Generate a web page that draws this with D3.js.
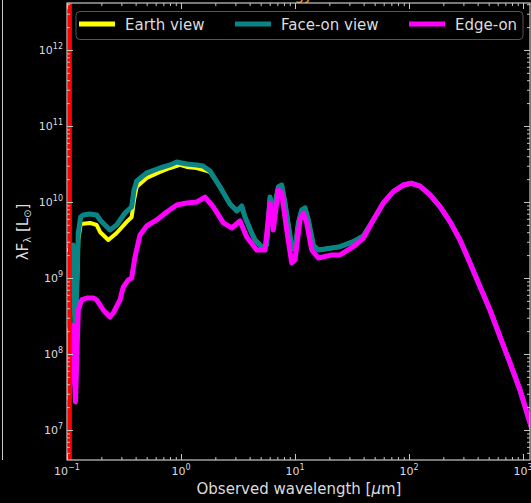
<!DOCTYPE html>
<html><head><meta charset="utf-8">
<script src="https://cdn.jsdelivr.net/npm/d3@7"></script>
<style>
html,body{margin:0;padding:0;background:#000;}
svg{display:block;font-family:"DejaVu Sans",sans-serif;}
</style></head><body>
<svg id="c" width="531" height="503"></svg>
<script>
// ---- data (wavelength in micron, lambda*F_lambda in L_sun) ----
const seriesNames = ["Earth view", "Face-on view", "Edge-on"];
const seriesColors = ["#ffff00", "#0a8585", "#ff00ff"];

const earthLam = [0.098,0.1129,0.1175,0.1211,0.1256,0.1319,0.1591,0.1822,0.1948,0.2303,0.2729,0.3339,0.3694,0.3871,0.4088,0.5001,0.6541,0.8006,0.980,1.122,1.373,1.680,1.796,2.198,2.691,3.081,3.408,3.642,4.171,4.459,5.105,5.647,6.035,6.451,7.137,7.643,8.173,9.356,10.00,10.69,11.45,12.24,13.09,14.47,16.01,20.99,24.81,32.46,39.72,48.63,59.52,72.84,89.13,105.6,124.9,152.9,187.1,228.9,280.2,342.8,419.6,513.4,628.4,769.2,941.2,1152,1274];
const earthF = [2.34e9,2.34e9,2.41e8,4.42e8,3.16e9,5.14e9,5.30e9,4.98e9,4.03e9,3.16e9,3.91e9,5.46e9,6.35e9,1.06e10,1.58e10,2.07e10,2.48e10,2.80e10,3.07e10,2.89e10,2.80e10,2.56e10,2.48e10,1.58e10,9.42e9,7.62e9,8.85e9,6.35e9,3.91e9,3.16e9,2.56e9,2.72e9,1.16e10,7.16e9,1.58e10,1.67e10,9.70e9,2.56e9,2.34e9,5.30e9,7.85e9,8.34e9,5.80e9,2.72e9,2.34e9,2.48e9,2.58e9,3.00e9,3.57e9,5.80e9,9.70e9,1.37e10,1.67e10,1.76e10,1.62e10,1.24e10,8.68e9,5.51e9,3.16e9,1.58e9,7.69e8,3.79e8,1.69e8,7.62e7,3.36e7,1.24e7,7.4e6];

const faceLam = [0.098,0.1129,0.1175,0.1211,0.1256,0.1319,0.1390,0.1591,0.1822,0.1948,0.2383,0.2729,0.3227,0.3694,0.3871,0.4088,0.5001,0.6541,0.8006,0.9168,1.122,1.373,1.560,1.796,2.198,2.691,3.081,3.408,3.642,4.171,4.459,5.105,5.647,6.035,6.451,7.137,7.643,8.173,9.356,10.00,10.69,11.45,12.24,13.09,14.47,16.01,20.99,24.81,32.46,39.72,48.63,59.52,72.84,89.13,105.6,124.9,152.9,187.1,228.9,280.2,342.8,419.6,513.4,628.4,769.2,941.2,1152,1274];
const faceF = [2.72e9,2.72e9,2.64e8,5.14e8,3.91e9,6.35e9,6.74e9,6.95e9,6.74e9,5.80e9,4.29e9,4.98e9,7.16e9,8.60e9,1.44e10,1.89e10,2.41e10,2.80e10,3.07e10,3.36e10,3.16e10,3.07e10,2.98e10,2.56e10,1.58e10,9.42e9,7.62e9,8.85e9,6.35e9,3.91e9,3.16e9,2.56e9,2.72e9,1.16e10,7.16e9,1.58e10,1.67e10,9.70e9,2.56e9,2.34e9,5.30e9,7.85e9,8.34e9,5.80e9,2.72e9,2.34e9,2.48e9,2.58e9,3.00e9,3.57e9,5.80e9,9.70e9,1.37e10,1.67e10,1.76e10,1.62e10,1.24e10,8.68e9,5.51e9,3.16e9,1.58e9,7.69e8,3.79e8,1.69e8,7.62e7,3.36e7,1.24e7,7.4e6];

const edgeLam = [0.098,0.1041,0.1129,0.1187,0.1256,0.1346,0.1489,0.1701,0.1822,0.2082,0.2383,0.2547,0.2917,0.3118,0.3449,0.3694,0.3949,0.4368,0.5001,0.6121,0.7491,0.9168,1.122,1.373,1.624,1.920,2.350,2.785,3.293,3.770,4.613,5.456,6.035,6.451,7.137,7.643,8.458,9.356,10.00,11.06,11.83,12.67,14.02,16.01,20.99,24.81,32.46,39.72,48.63,59.52,72.84,89.13,105.6,124.9,152.9,187.1,228.9,280.2,342.8,419.6,513.4,628.4,769.2,941.2,1152,1274];
const edgeF = [2.07e8,2.64e7,2.41e8,2.34e7,3.79e8,5.14e8,5.46e8,5.46e8,5.14e8,3.79e8,3.07e8,3.46e8,5.14e8,7.62e8,9.41e8,1.00e9,1.89e9,3.68e9,4.83e9,5.80e9,7.38e9,9.14e9,9.70e9,1.00e10,1.16e10,8.60e9,5.30e9,4.55e9,5.62e9,3.46e9,2.34e9,2.34e9,9.70e9,4.29e9,1.44e10,1.31e10,4.29e9,1.58e9,1.73e9,5.80e9,7.16e9,5.30e9,2.34e9,1.83e9,2.01e9,2.01e9,2.58e9,3.33e9,5.80e9,9.70e9,1.37e10,1.67e10,1.76e10,1.62e10,1.24e10,8.68e9,5.51e9,3.16e9,1.58e9,7.69e8,3.79e8,1.69e8,7.62e7,3.36e7,1.24e7,7.4e6];

const lymanLine = 0.106;           // red vertical marker (micron)
const xTickExps = [-1, 0, 1, 2, 3];
const yTickExps = [7, 8, 9, 10, 11, 12];
const xLabel = "Observed wavelength [";
const titleText = "Energy";

// ---- layout ----
const svg = d3.select("#c");
const L = 67, R = 530, T = 3, B = 460;
const x = d3.scaleLog().domain([0.1, Math.pow(10, 3.0614)]).range([L, R]);
const y = d3.scaleLog().domain([Math.pow(10, 6.605), Math.pow(10, 12.618)]).range([B, T]);
const fg = "#dcdcdc", spine = "#c8c8c8";

svg.append("rect").attr("width", 531).attr("height", 503).attr("fill", "#000");
// neighbouring panel edge
svg.append("line").attr("x1", 2.5).attr("x2", 2.5).attr("y1", 0).attr("y2", B).attr("stroke", spine).attr("stroke-width", 1);

// title fragment (cut off at top)
svg.append("text").attr("x", 313).attr("y", -0.5).attr("text-anchor", "end")
  .attr("fill", "#ffa500").attr("font-size", 15).text(titleText);

svg.append("defs").append("clipPath").attr("id", "clip")
  .append("rect").attr("x", L).attr("y", T).attr("width", R - L).attr("height", B - T);

const plot = svg.append("g").attr("clip-path", "url(#clip)");

const line = d3.line().x(d => x(d[0])).y(d => y(d[1]));
const series = [
  d3.zip(earthLam, earthF),
  d3.zip(faceLam, faceF),
  d3.zip(edgeLam, edgeF)
];
const widths = [4, 5, 5];
series.forEach((s, i) => {
  plot.append("path").datum(s).attr("d", line).attr("fill", "none")
    .attr("stroke", seriesColors[i]).attr("stroke-width", widths[i])
    .attr("stroke-linejoin", "round").attr("stroke-linecap", "round");
});

// red vertical line
plot.append("line").attr("x1", x(lymanLine)).attr("x2", x(lymanLine))
  .attr("y1", T).attr("y2", B).attr("stroke", "#ff0000").attr("stroke-width", 4);

// ---- axes: ticks inward on all sides ----
const xMajor = xTickExps.map(e => Math.pow(10, e));
const yMajor = yTickExps.map(e => Math.pow(10, e));
function minors(scale, lo, hi) {
  const out = [];
  for (let e = lo; e <= hi; e++) for (let k = 2; k <= 9; k++) {
    const v = k * Math.pow(10, e);
    const d = scale.domain();
    if (v >= d[0] && v <= d[1]) out.push(v);
  }
  return out;
}
const xMinor = minors(x, -1, 3);
const yMinor = minors(y, 6, 12);

function drawAxis(gen, tr, vals, size) {
  const g = svg.append("g").attr("transform", tr)
    .call(gen.tickValues(vals).tickSize(size).tickSizeOuter(0).tickFormat(""));
  g.select(".domain").remove();
  g.selectAll("line").attr("stroke", spine).attr("stroke-width", 1);
  return g;
}
drawAxis(d3.axisBottom(x), `translate(0,${B})`, xMajor, -6);
drawAxis(d3.axisBottom(x), `translate(0,${B})`, xMinor, -3);
drawAxis(d3.axisTop(x), `translate(0,${T})`, xMajor, -6);
drawAxis(d3.axisTop(x), `translate(0,${T})`, xMinor, -3);
drawAxis(d3.axisLeft(y), `translate(${L},0)`, yMajor, -6);
drawAxis(d3.axisLeft(y), `translate(${L},0)`, yMinor, -3);
drawAxis(d3.axisRight(y), `translate(${R},0)`, yMajor, -6);
drawAxis(d3.axisRight(y), `translate(${R},0)`, yMinor, -3);

svg.append("rect").attr("x", L).attr("y", T).attr("width", R - L).attr("height", B - T)
  .attr("fill", "none").attr("stroke", spine).attr("stroke-width", 1.2);

// tick labels with superscripts
function powLabel(g, e) {
  g.append("tspan").text("10");
  g.append("tspan").attr("dy", -5).attr("font-size", 8).text(e < 0 ? "\u2212" + (-e) : String(e));
}
xTickExps.forEach(e => {
  const t = svg.append("text").attr("x", x(Math.pow(10, e))).attr("y", 475)
    .attr("text-anchor", "middle").attr("fill", fg).attr("font-size", 11);
  powLabel(t, e);
});
yTickExps.forEach(e => {
  const t = svg.append("text").attr("x", L - 4).attr("y", y(Math.pow(10, e)) + 4)
    .attr("text-anchor", "end").attr("fill", fg).attr("font-size", 11);
  powLabel(t, e);
});

// axis labels
const xl = svg.append("text").attr("x", 299).attr("y", 494).attr("text-anchor", "middle")
  .attr("fill", fg).attr("font-size", 15);
xl.append("tspan").text(xLabel);
xl.append("tspan").attr("font-style", "italic").text("\u03bc");
xl.append("tspan").text("m]");

const yl = svg.append("text").attr("transform", "translate(28,232) rotate(-90)")
  .attr("text-anchor", "middle").attr("fill", fg).attr("font-size", 15);
yl.append("tspan").text("\u03bbF");
yl.append("tspan").attr("dy", 3).attr("font-size", 10).text("\u03bb");
yl.append("tspan").attr("dy", -3).text(" [L");
yl.append("tspan").attr("dy", 3).attr("font-size", 10).text("\u2299");
yl.append("tspan").attr("dy", -3).text("]");

// legend
const lg = svg.append("g");
lg.append("rect").attr("x", 76).attr("y", 11.5).attr("width", 447).attr("height", 28)
  .attr("rx", 4).attr("fill", "#000").attr("fill-opacity", 0.8)
  .attr("stroke", "#555").attr("stroke-width", 1);
const legX = [79, 235, 409];
seriesNames.forEach((n, i) => {
  lg.append("line").attr("x1", legX[i]).attr("x2", legX[i] + 36).attr("y1", 24).attr("y2", 24)
    .attr("stroke", seriesColors[i]).attr("stroke-width", 5);
  lg.append("text").attr("x", legX[i] + 46).attr("y", 29.5).attr("fill", fg)
    .attr("font-size", 15).text(n);
});
</script></body></html>
